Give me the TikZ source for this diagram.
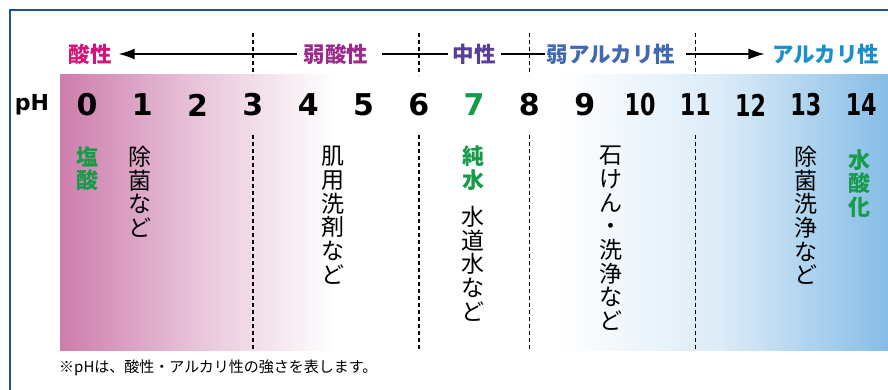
\documentclass[tikz,border=0pt]{standalone}
\usepackage{fontspec}
\setmainfont{Noto Sans CJK JP}
\newfontfamily\digitfont{DejaVu Sans}
\usetikzlibrary{shapes,arrows.meta,positioning,calc}
\definecolor{frameblue}{HTML}{1F4E9C}
\definecolor{acidpink}{HTML}{CD7DAC}
\definecolor{alkblue}{HTML}{86BDE6}
\definecolor{acidcol}{HTML}{D2157A}
\definecolor{weakacidcol}{HTML}{9A2A8B}
\definecolor{neutralcol}{HTML}{5A3C99}
\definecolor{weakalkcol}{HTML}{4168B0}
\definecolor{alkcol}{HTML}{1B8FCC}
\definecolor{phgreen}{HTML}{169B48}

\begin{document}
\begin{tikzpicture}[
    x=1pt, y=-1pt,
    phnum/.style={font=\digitfont\bfseries\fontsize{30}{30}\selectfont, inner sep=0pt},
    header/.style={font=\bfseries\fontsize{21.5}{22}\selectfont, inner sep=0pt},
    vtext/.style={font=\fontsize{23}{23.7}\selectfont, align=center, anchor=north, inner sep=0pt},
    gtext/.style={vtext, font=\bfseries\fontsize{22}{23.7}\selectfont, text=phgreen},
    divider/.style={dash pattern=on 4pt off 3pt, line width=1.4pt},
    arrow/.style={-{Latex[length=16pt,width=11pt]}, line width=1.3pt},
    link/.style={line width=1.3pt}
]
\useasboundingbox (0,0) rectangle (888,390);
\clip (0,0) rectangle (888,390);

% frame and colour band
\draw[frameblue, line width=2.5pt] (10,400) -- (10,10) -- (900,10);
\shade[left color=acidpink, right color=white, middle color=acidpink!45!white] (60,75) rectangle (335,350);
\shade[left color=white, right color=alkblue, middle color=alkblue!30!white] (557,75) rectangle (888,350);

% pH scale
\node[phnum, font=\digitfont\bfseries\fontsize{22}{22}\selectfont] (ph) at (32,105) {pH};
\foreach \i in {0,...,6,8,9}
    \node[phnum] (n\i) at (87+55.3*\i,105) {\i};
\node[phnum, text=phgreen] (n7) at (87+55.3*7,105) {7};
\foreach \i in {10,...,14}
    \node[phnum] (n\i) at (87+55.3*\i,105) {\scalebox{0.74}[1]{\i}};

% headings
\node[header, text=acidcol] (acid) at (90,54) {酸性};
\node[header, text=weakacidcol] (weakacid) at (336,54) {弱酸性};
\node[header, text=neutralcol] (neutral) at (474,54) {中性};
\node[header, text=weakalkcol] (weakalk) at (611,54) {弱アルカリ性};
\node[header, text=alkcol] (alk) at (826,54) {アルカリ性};

\draw[arrow] ([xshift=-7pt]weakacid.west) -- ([xshift=7pt]acid.east);
\draw[link] ([xshift=14pt]weakacid.east) -- ([xshift=-4pt]neutral.west);
\draw[link] ([xshift=5pt]neutral.east) -- ([xshift=-2pt]weakalk.west);
\draw[arrow] ([xshift=11pt]weakalk.east) -- ([xshift=-8pt]alk.west);

% dividers
\foreach \k in {3,6,8,11} {
    \draw[divider] (n\k |- 0,33) -- (n\k |- 0,75);
    \draw[divider] (n\k |- 0,135) -- (n\k |- 0,350);
}

% examples
\node[gtext] (hcl) at (87,146) {塩\\酸};
\node[vtext] (jokin) at (140,146) {除\\菌\\な\\ど};
\node[vtext] (hada) at (333,146) {肌\\用\\洗\\剤\\な\\ど};
\node[gtext] (junsui) at (473,146) {純\\水};
\node[vtext] (suido) at (473,206) {水\\道\\水\\な\\ど};
\node[vtext] (sekken) at (611,146) {石\\け\\ん\\・\\洗\\浄\\な\\ど};
\node[vtext] (senjo) at (806,146) {除\\菌\\洗\\浄\\な\\ど};
\node[gtext] (naoh) at (859,149) {水\\酸\\化};

\node[anchor=west, inner sep=0pt, font=\fontsize{15}{15}\selectfont] (note) at (59,368) {※pHは、酸性・アルカリ性の強さを表します。};
\end{tikzpicture}
\end{document}
